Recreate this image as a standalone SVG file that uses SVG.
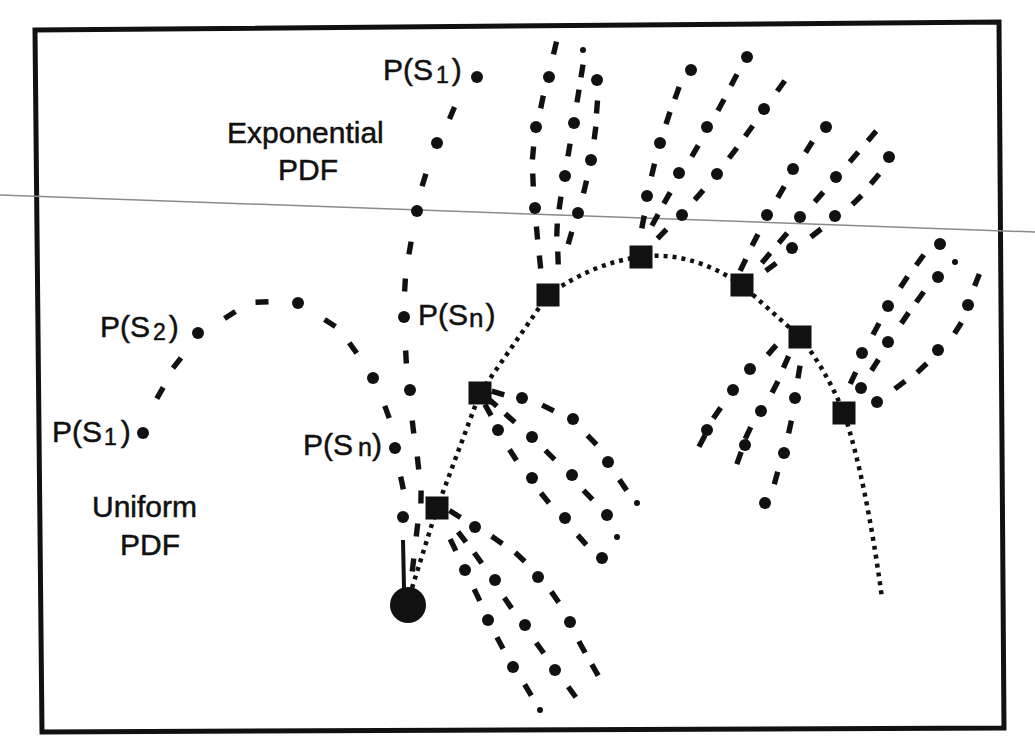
<svg xmlns="http://www.w3.org/2000/svg" width="1035" height="750" viewBox="0 0 1035 750">
<defs>
<marker id="dot" markerUnits="userSpaceOnUse" markerWidth="14" markerHeight="14" refX="7" refY="7" overflow="visible"><circle cx="7" cy="7" r="6" fill="#111"/></marker>
<marker id="dash" markerUnits="userSpaceOnUse" markerWidth="14" markerHeight="6" refX="7" refY="3" orient="auto" overflow="visible"><rect x="0.5" y="0.3" width="13" height="5.4" fill="#111"/></marker>
</defs>
<style>
.dashes{fill:none;stroke:none;marker-start:url(#dash);marker-mid:url(#dash);marker-end:url(#dash)}
.dots{fill:none;stroke:none;marker-start:url(#dot);marker-mid:url(#dot);marker-end:url(#dot)}
.tree{fill:none;stroke:#111;stroke-width:4.5;stroke-dasharray:4 5}
.solid{fill:none;stroke:#111;stroke-width:4}
.end{fill:#111}
.node{fill:#111}
.lbl{font-family:"Liberation Sans",Arial,sans-serif;font-size:30px;fill:#111;stroke:#111;stroke-width:0.5}
</style>
<rect width="1035" height="750" fill="#fff"/>
<polygon points="35,30 999,22 1004,728 42,732" fill="none" stroke="#111" stroke-width="5"/>
<path d="M0,195 L1035,232" stroke="#8a8a8a" stroke-width="1.5" fill="none"/>

<g id="connectors">
  <path class="tree" d="M412,588 L437,508 L480,393 L548,295 Q595,262 641,257 Q690,250 742,285 L800,337 Q825,368 844,413 Q866,480 882,598"/>
  <g id="uniform-pdf">
    <path class="dashes" d="M160,393 L177,363 L230,315 L262,302 L330,323 L353,348 L387,412 L402,483"/>
    <path class="dots" d="M143,433 L198,333 L298,303 L373,378 L395,448 L403,517"/>
    <path class="solid" d="M403,540 L404,588"/>
  </g>
  <g id="exponential-pdf">
    <path class="dashes" d="M452,113 L424,180 L410,248 L405,285 L406,357 L413,427 L418,463 L421,497 L417,530 L413,565"/>
    <path class="dots" d="M477,77 L437,143 L417,211 L404,317 L410,390"/>
  </g>
  <g id="fan1">
    <path class="dashes" d="M455,514 L497,540 L520,557 L555,597 L582,647 L595,670"/>
    <path class="dots" d="M475,527 L538,577 L570,622"/>
    <path class="dashes" d="M462,537 L478,558 L508,603 L540,648 L572,692"/>
    <path class="dots" d="M495,580 L525,625 L555,670"/>
    <path class="dashes" d="M453,545 L477,595 L500,643 L528,690"/>
    <path class="dots" d="M465,570 L488,620 L513,667"/>
    <circle class="end" cx="540" cy="710" r="3"/>
  </g>
  <g id="fan2">
    <path class="dashes" d="M498,393 L548,408 L592,440 L623,485"/>
    <path class="dots" d="M522,398 L573,419 L608,462"/>
    <circle class="end" cx="637" cy="503" r="3"/>
    <path class="dashes" d="M492,402 L510,418 L550,455 L588,495"/>
    <path class="dots" d="M532,437 L572,475 L607,515"/>
    <circle class="end" cx="617" cy="537" r="3"/>
    <path class="dashes" d="M488,410 L513,455 L545,498 L582,540"/>
    <path class="dots" d="M498,430 L532,478 L565,518 L602,558"/>
  </g>
  <g id="fan3">
    <path class="dashes" d="M540,262 L537,233 L533,180 L533,153 L542,102 L555,48"/>
    <path class="dots" d="M535,208 L536,127 L549,77"/>
    <path class="dashes" d="M558,258 L557,230 L560,203 L569,150 L578,96 L582,71"/>
    <path class="dots" d="M565,176 L574,123"/>
    <circle class="end" cx="583" cy="50" r="3"/>
    <path class="dashes" d="M570,238 L585,187 L595,133 L597,107"/>
    <path class="dots" d="M578,213 L591,160 L597,80"/>
  </g>
  <g id="fan4">
    <path class="dashes" d="M643,222 L653,170 L668,118 L677,93"/>
    <path class="dots" d="M647,196 L660,143 L691,70"/>
    <path class="dashes" d="M655,220 L667,198 L695,151 L721,105 L734,80"/>
    <path class="dots" d="M679,173 L707,127 L747,57"/>
    <path class="dashes" d="M662,234 L699,195 L733,153 L749,131 L781,86"/>
    <path class="dots" d="M682,215 L717,174 L764,109"/>
  </g>
  <g id="fan5">
    <path class="dashes" d="M743,265 L755,240 L781,192 L809,147"/>
    <path class="dots" d="M767,215 L793,169 L826,127"/>
    <path class="dashes" d="M766,258 L783,238 L819,197 L854,157 L872,136"/>
    <path class="dots" d="M800,217 L836,177"/>
    <path class="dashes" d="M771,267 L816,233 L857,200 L875,179"/>
    <path class="dots" d="M792,248 L835,216 L889,157"/>
  </g>
  <g id="fan6">
    <path class="dashes" d="M772,350 L717,413 L702,441"/>
    <path class="dots" d="M750,369 L733,390 L707,430"/>
    <path class="dashes" d="M786,362 L775,387 L748,433 L739,458"/>
    <path class="dots" d="M761,411 L745,445"/>
    <path class="dashes" d="M799,372 L790,427 L776,478"/>
    <path class="dots" d="M795,398 L784,453 L765,503"/>
  </g>
  <g id="fan7">
    <path class="dashes" d="M853,378 L876,329 L904,282 L920,260"/>
    <path class="dots" d="M862,353 L888,306 L940,244"/>
    <path class="dashes" d="M875,365 L905,318 L920,297"/>
    <path class="dots" d="M861,388 L888,342 L938,277"/>
    <circle class="end" cx="955" cy="262" r="3"/>
    <path class="dashes" d="M900,385 L922,368 L958,328 L977,280"/>
    <path class="dots" d="M877,402 L938,350 L968,305"/>
  </g>
</g>

<g id="start"><circle class="node" cx="408" cy="605" r="18"/></g>
<g id="s1"><rect class="node" x="425.5" y="496.5" width="23" height="23"/></g>
<g id="s2"><rect class="node" x="468.5" y="381.5" width="23" height="23"/></g>
<g id="s3"><rect class="node" x="536.5" y="283.5" width="23" height="23"/></g>
<g id="s4"><rect class="node" x="629.5" y="245.5" width="23" height="23"/></g>
<g id="s5"><rect class="node" x="730.5" y="273.5" width="23" height="23"/></g>
<g id="s6"><rect class="node" x="788.5" y="325.5" width="23" height="23"/></g>
<g id="s7"><rect class="node" x="832.5" y="401.5" width="23" height="23"/></g>

<g id="labels">
  <text class="lbl" x="383" y="80">P(S<tspan font-size="23" dx="3" dy="3">1</tspan><tspan dx="3" dy="-3">)</tspan></text>
  <text class="lbl" x="227" y="143">Exponential</text>
  <text class="lbl" x="278" y="180">PDF</text>
  <text class="lbl" x="100" y="337">P(S<tspan font-size="23" dx="3" dy="3">2</tspan><tspan dx="3" dy="-3">)</tspan></text>
  <text class="lbl" x="418" y="325">P(S<tspan font-size="26" dx="1" dy="2">n</tspan><tspan dx="2" dy="-2">)</tspan></text>
  <text class="lbl" x="52" y="442">P(S<tspan font-size="23" dx="2" dy="3">1</tspan><tspan dx="4" dy="-3">)</tspan></text>
  <text class="lbl" x="303" y="455">P(S<tspan font-size="25" dx="5" dy="1">n</tspan><tspan dx="0" dy="-1">)</tspan></text>
  <text class="lbl" x="92" y="517">Uniform</text>
  <text class="lbl" x="120" y="555">PDF</text>
</g>
</svg>
